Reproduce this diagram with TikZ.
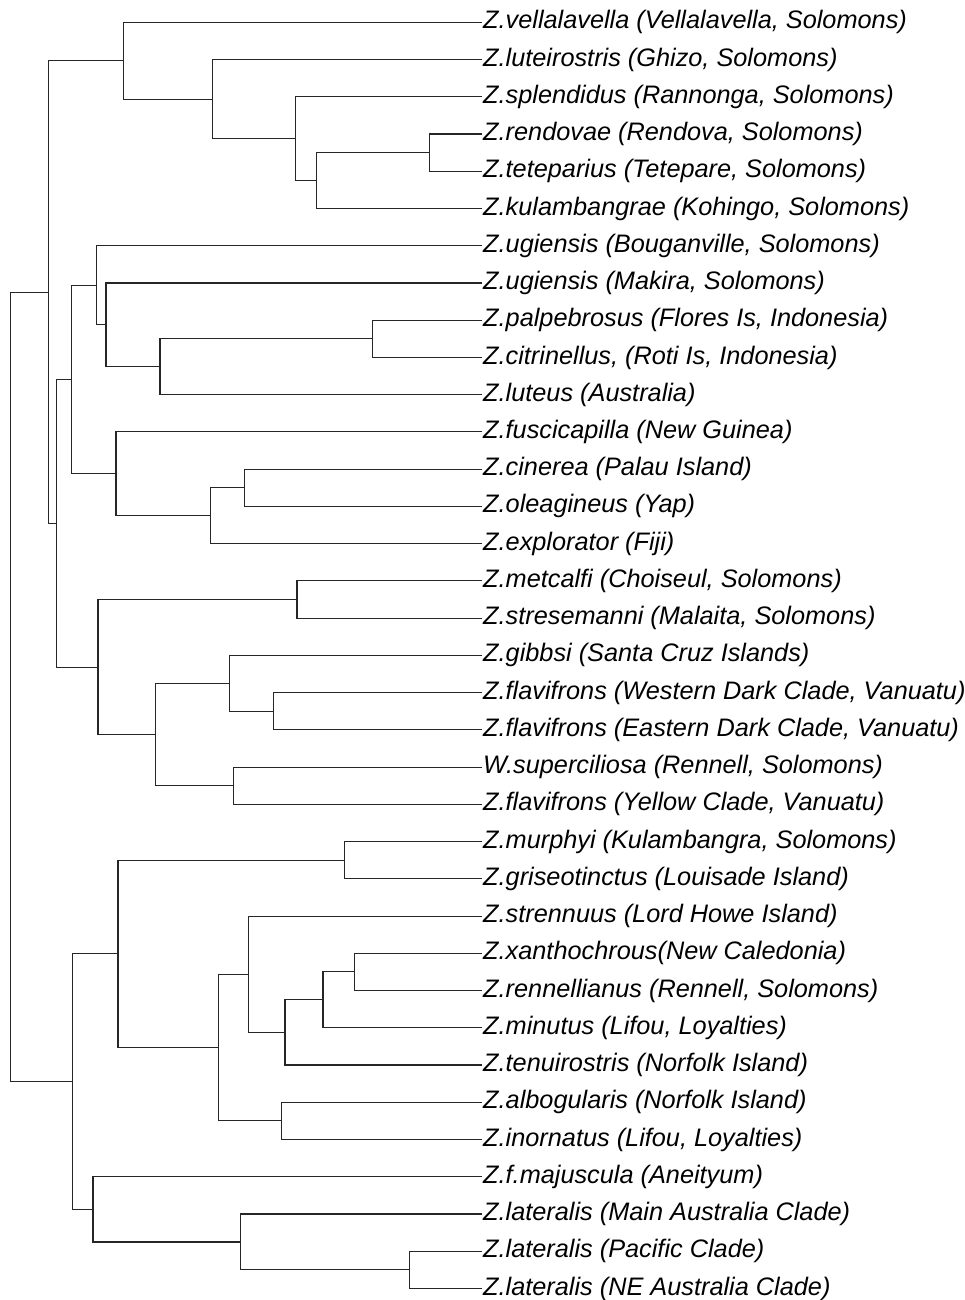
\documentclass[tikz,border=0pt]{standalone}
\usepackage{fontspec}
\setmainfont{Liberation Sans}
\usepackage{tikz}
\usetikzlibrary{positioning,calc}

\begin{document}
\begin{tikzpicture}[x=1pt,y=-1pt,
  branch/.style={line width=1.15pt,black!85},
  taxon/.style={anchor=west,inner xsep=1pt,inner ysep=0pt,font=\fontsize{25.3}{30}\selectfont\itshape}]
\useasboundingbox (0,0) rectangle (965,1300);

% tips
\node[taxon] (vella) at (482,22.3) {Z.vellalavella (Vellalavella, Solomons)};
\node[taxon] (lutei) at (482,59.5) {Z.luteirostris (Ghizo, Solomons)};
\node[taxon] (splen) at (482,96.8) {Z.splendidus (Rannonga, Solomons)};
\node[taxon] (rendo) at (482,134.0) {Z.rendovae (Rendova, Solomons)};
\node[taxon] (tetep) at (482,171.3) {Z.teteparius (Tetepare, Solomons)};
\node[taxon] (kulam) at (482,208.5) {Z.kulambangrae (Kohingo, Solomons)};
\node[taxon] (ugiB) at (482,245.7) {Z.ugiensis (Bouganville, Solomons)};
\node[taxon] (ugiM) at (482,283.0) {Z.ugiensis (Makira, Solomons)};
\node[taxon] (palpe) at (482,320.2) {Z.palpebrosus (Flores Is, Indonesia)};
\node[taxon] (citri) at (482,357.5) {Z.citrinellus, (Roti Is, Indonesia)};
\node[taxon] (luteu) at (482,394.7) {Z.luteus (Australia)};
\node[taxon] (fusci) at (482,431.9) {Z.fuscicapilla (New Guinea)};
\node[taxon] (ciner) at (482,469.2) {Z.cinerea (Palau Island)};
\node[taxon] (oleag) at (482,506.4) {Z.oleagineus (Yap)};
\node[taxon] (explo) at (482,543.7) {Z.explorator (Fiji)};
\node[taxon] (metca) at (482,580.9) {Z.metcalfi (Choiseul, Solomons)};
\node[taxon] (stres) at (482,618.1) {Z.stresemanni (Malaita, Solomons)};
\node[taxon] (gibbs) at (482,655.4) {Z.gibbsi (Santa Cruz Islands)};
\node[taxon] (flavW) at (482,692.6) {Z.flavifrons (Western Dark Clade, Vanuatu)};
\node[taxon] (flavE) at (482,729.9) {Z.flavifrons (Eastern Dark Clade, Vanuatu)};
\node[taxon] (super) at (482,767.1) {W.superciliosa (Rennell, Solomons)};
\node[taxon] (flavY) at (482,804.3) {Z.flavifrons (Yellow Clade, Vanuatu)};
\node[taxon] (murph) at (482,841.6) {Z.murphyi (Kulambangra, Solomons)};
\node[taxon] (grise) at (482,878.8) {Z.griseotinctus (Louisade Island)};
\node[taxon] (stren) at (482,916.1) {Z.strennuus (Lord Howe Island)};
\node[taxon] (xanth) at (482,953.3) {Z.xanthochrous(New Caledonia)};
\node[taxon] (renne) at (482,990.5) {Z.rennellianus (Rennell, Solomons)};
\node[taxon] (minut) at (482,1027.8) {Z.minutus (Lifou, Loyalties)};
\node[taxon] (tenui) at (482,1065.0) {Z.tenuirostris (Norfolk Island)};
\node[taxon] (albog) at (482,1102.3) {Z.albogularis (Norfolk Island)};
\node[taxon] (inorn) at (482,1139.5) {Z.inornatus (Lifou, Loyalties)};
\node[taxon] (majus) at (482,1176.7) {Z.f.majuscula (Aneityum)};
\node[taxon] (latMA) at (482,1214.0) {Z.lateralis (Main Australia Clade)};
\node[taxon] (latP) at (482,1251.2) {Z.lateralis (Pacific Clade)};
\node[taxon] (latNE) at (482,1288.5) {Z.lateralis (NE Australia Clade)};

% internal nodes
\coordinate (rendoTet) at (429.3,152.7);
\coordinate (kulamCl) at (316.7,180.6);
\coordinate (splenCl) at (295.3,138.7);
\coordinate (luteiCl) at (212.3,99.1);
\coordinate (vellaCl) at (123.3,60.7);
\coordinate (palpeCit) at (372.7,338.9);
\coordinate (luteuCl) at (160,366.8);
\coordinate (ugiMCl) at (106,324.9);
\coordinate (ugiBCl) at (96.3,285.3);
\coordinate (cinOle) at (244.7,487.8);
\coordinate (exploCl) at (210.7,515.8);
\coordinate (fusciCl) at (116,473.9);
\coordinate (ugiFus) at (71.3,379.6);
\coordinate (metStr) at (297,599.5);
\coordinate (flavWE) at (273.3,711.3);
\coordinate (gibbsCl) at (229.3,683.4);
\coordinate (supFlav) at (233.3,785.7);
\coordinate (vanuCl) at (155.7,734.6);
\coordinate (metVan) at (98,667.1);
\coordinate (midCl) at (56.7,523.4);
\coordinate (upperCl) at (48.7,292.1);
\coordinate (murGri) at (344.7,860.2);
\coordinate (xanRen) at (354.7,971.9);
\coordinate (minutCl) at (323,999.9);
\coordinate (tenuiCl) at (285,1032.5);
\coordinate (strenCl) at (248.3,974.3);
\coordinate (albIno) at (281.3,1120.9);
\coordinate (tasmanCl) at (218.3,1047.6);
\coordinate (murphCl) at (118,953.9);
\coordinate (latPNE) at (409.3,1269.9);
\coordinate (latCl) at (240.3,1242.0);
\coordinate (majusCl) at (93,1209.4);
\coordinate (lowerCl) at (72.3,1081.7);
\coordinate (root) at (10.7,686.9);

% branches
\draw[branch] (rendo) -| (rendoTet) |- (tetep);
\draw[branch] (rendoTet) -| (kulamCl) |- (kulam);
\draw[branch] (splen) -| (splenCl) |- (kulamCl);
\draw[branch] (lutei) -| (luteiCl) |- (splenCl);
\draw[branch] (vella) -| (vellaCl) |- (luteiCl);
\draw[branch] (palpe) -| (palpeCit) |- (citri);
\draw[branch] (palpeCit) -| (luteuCl) |- (luteu);
\draw[branch] (ugiM) -| (ugiMCl) |- (luteuCl);
\draw[branch] (ugiB) -| (ugiBCl) |- (ugiMCl);
\draw[branch] (ciner) -| (cinOle) |- (oleag);
\draw[branch] (cinOle) -| (exploCl) |- (explo);
\draw[branch] (fusci) -| (fusciCl) |- (exploCl);
\draw[branch] (ugiBCl) -| (ugiFus) |- (fusciCl);
\draw[branch] (metca) -| (metStr) |- (stres);
\draw[branch] (flavW) -| (flavWE) |- (flavE);
\draw[branch] (gibbs) -| (gibbsCl) |- (flavWE);
\draw[branch] (super) -| (supFlav) |- (flavY);
\draw[branch] (gibbsCl) -| (vanuCl) |- (supFlav);
\draw[branch] (metStr) -| (metVan) |- (vanuCl);
\draw[branch] (ugiFus) -| (midCl) |- (metVan);
\draw[branch] (vellaCl) -| (upperCl) |- (midCl);
\draw[branch] (murph) -| (murGri) |- (grise);
\draw[branch] (xanth) -| (xanRen) |- (renne);
\draw[branch] (xanRen) -| (minutCl) |- (minut);
\draw[branch] (minutCl) -| (tenuiCl) |- (tenui);
\draw[branch] (stren) -| (strenCl) |- (tenuiCl);
\draw[branch] (albog) -| (albIno) |- (inorn);
\draw[branch] (strenCl) -| (tasmanCl) |- (albIno);
\draw[branch] (murGri) -| (murphCl) |- (tasmanCl);
\draw[branch] (latP) -| (latPNE) |- (latNE);
\draw[branch] (latMA) -| (latCl) |- (latPNE);
\draw[branch] (majus) -| (majusCl) |- (latCl);
\draw[branch] (murphCl) -| (lowerCl) |- (majusCl);
\draw[branch] (upperCl) -| (root) |- (lowerCl);
\end{tikzpicture}
\end{document}
